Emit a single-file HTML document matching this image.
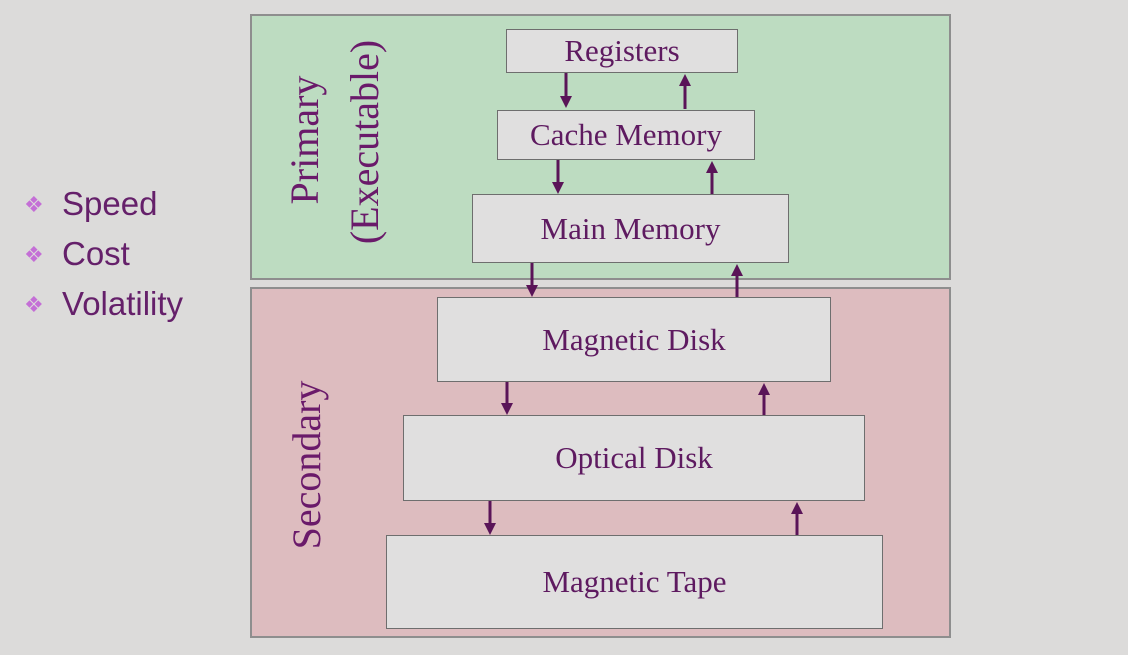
<!DOCTYPE html>
<html><head><style>
body{margin:0;width:1128px;height:655px;background:#dcdbda;position:relative;overflow:hidden;font-family:"Liberation Serif",serif}
.p{position:absolute}
.box{position:absolute;background:#e0dfdf;border:1.5px solid #6e6e6e;box-sizing:border-box;display:flex;align-items:center;justify-content:center;color:#5e1a60;font-size:31px}
.bl{position:absolute;left:62px;font-family:"Liberation Sans",sans-serif;font-size:33px;color:#65206a}
.dm{position:absolute;left:24px;font-size:22px;color:#c46fd6;font-family:"DejaVu Sans",sans-serif}
.v{position:absolute;color:#6a1a6a;font-size:40px;white-space:nowrap;transform:rotate(-90deg);transform-origin:center}
</style></head><body>
<div class="p" style="left:250px;top:14px;width:701px;height:266px;background:#bddcc1;border:2px solid #8e8e8e;box-sizing:border-box"></div>
<div class="p" style="left:250px;top:287px;width:701px;height:351px;background:#ddbcbf;border:2px solid #8e8e8e;box-sizing:border-box"></div>
<div class="dm" style="top:193px">❖</div><div class="bl" style="top:185px">Speed</div>
<div class="dm" style="top:243px">❖</div><div class="bl" style="top:235px">Cost</div>
<div class="dm" style="top:293px">❖</div><div class="bl" style="top:285px">Volatility</div>
<div class="v" style="left:205px;top:120px;width:200px;text-align:center;line-height:40px">Primary</div>
<div class="v" style="left:250px;top:122px;width:230px;text-align:center;line-height:40px">(Executable)</div>
<div class="v" style="left:207px;top:445px;width:200px;text-align:center;line-height:40px">Secondary</div>
<div class="box" style="left:506px;top:29px;width:232px;height:44px">Registers</div>
<div class="box" style="left:497px;top:110px;width:258px;height:50px">Cache Memory</div>
<div class="box" style="left:472px;top:194px;width:317px;height:69px">Main Memory</div>
<div class="box" style="left:437px;top:297px;width:394px;height:85px">Magnetic Disk</div>
<div class="box" style="left:403px;top:415px;width:462px;height:86px">Optical Disk</div>
<div class="box" style="left:386px;top:535px;width:497px;height:94px">Magnetic Tape</div>
<svg class="p" style="left:0;top:0" width="1128" height="655">
<defs><marker id="a" markerWidth="4" markerHeight="4" refX="2" refY="2" orient="auto" markerUnits="strokeWidth"><path d="M0,0L4,2L0,4z" fill="#5a1458"/></marker></defs>
<g stroke="#5a1458" stroke-width="3" marker-end="url(#a)">
<line x1="566" y1="73" x2="566" y2="102"/><line x1="685" y1="109" x2="685" y2="80"/>
<line x1="558" y1="160" x2="558" y2="188"/><line x1="712" y1="194" x2="712" y2="167"/>
<line x1="532" y1="263" x2="532" y2="291"/><line x1="737" y1="297" x2="737" y2="270"/>
<line x1="507" y1="382" x2="507" y2="409"/><line x1="764" y1="415" x2="764" y2="389"/>
<line x1="490" y1="501" x2="490" y2="529"/><line x1="797" y1="535" x2="797" y2="508"/>
</g></svg>
</body></html>
